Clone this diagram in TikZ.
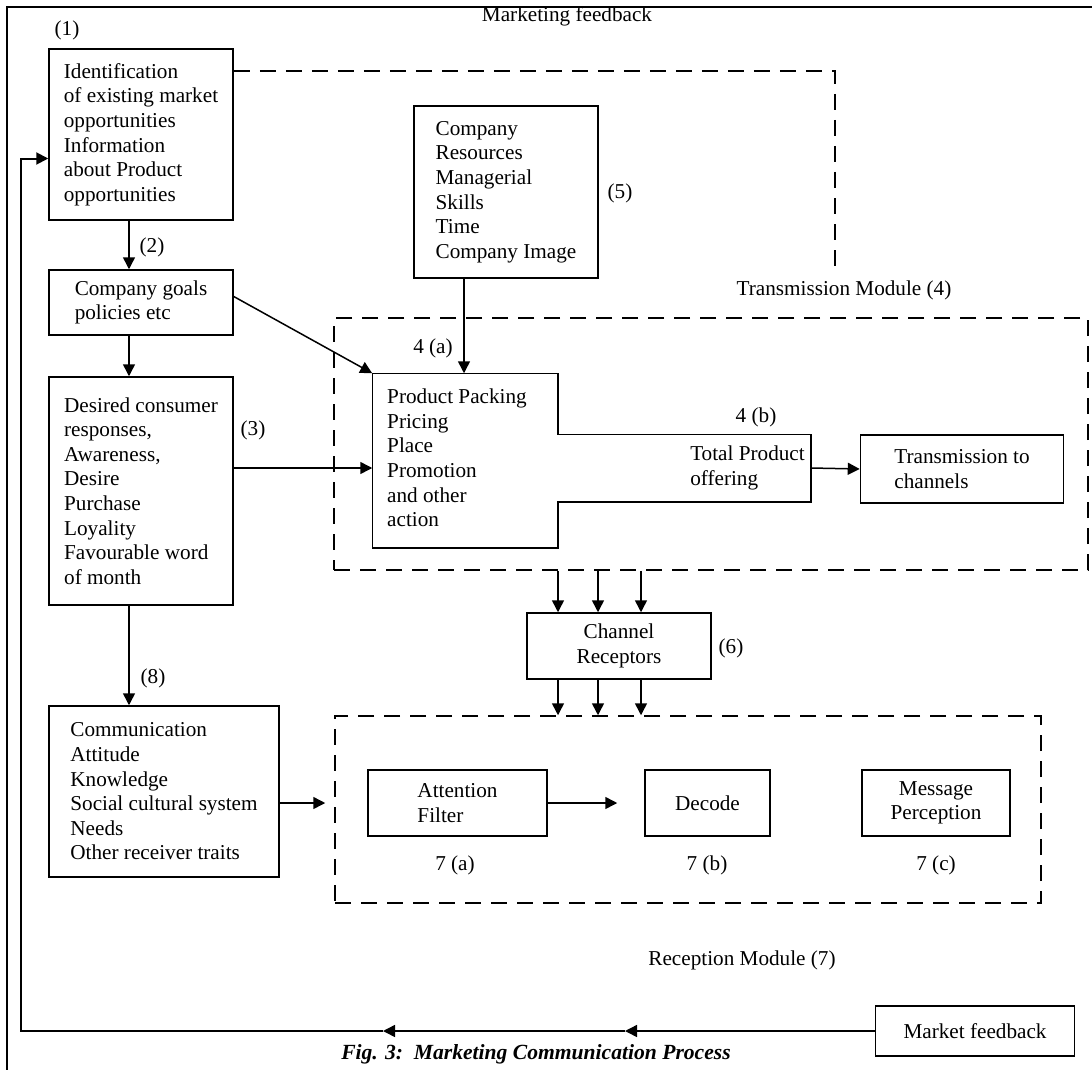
\documentclass[tikz,border=0pt]{standalone}
\usepackage{fontspec}
\setmainfont{Liberation Serif}
\usetikzlibrary{arrows.meta}

\tikzset{every picture/.style={line width=0.75pt}}
\tikzset{
  txt/.style={inner sep=0.75pt, font=\fontsize{10.6}{12.3}\selectfont},
  blk/.style={txt, draw, align=left},
  cblk/.style={txt, draw, align=center},
  modbox/.style={draw, dash pattern=on 8pt off 5pt},
  fbline/.style={dash pattern=on 8pt off 5pt},
  arr/.style={-{Triangle[length=6pt,width=6pt]}},
}

\begin{document}
\begin{tikzpicture}[x=0.5pt,y=0.5pt,yscale=-1,xscale=1]
\useasboundingbox (0,0) rectangle (1092,1070);

%Frame
\draw [line width=1pt] (7,1070) -- (7,7) -- (1092,7) ;

%Shape: Rectangle (1)
\node [blk, minimum width=92pt, minimum height=85.5pt] (idmkt) at (141,134.5) {Identification\\of existing market\\opportunities\\Information\\about Product\\opportunities};
%Shape: Rectangle (2)
\node [blk, minimum width=92pt, minimum height=32.5pt] (goals) at (141,302.5) {Company goals\\policies etc};
%Shape: Rectangle (3)
\node [blk, minimum width=92pt, minimum height=114pt] (resp) at (141,491) {Desired consumer\\responses,\\Awareness,\\Desire\\Purchase\\Loyality\\Favourable word\\of month};
%Shape: Rectangle (5)
\node [blk, minimum width=92pt, minimum height=86pt] (resrc) at (506,192) {Company\\Resources\\Managerial\\Skills\\Time\\Company Image};
%Shape: Rectangle (8)
\node [blk, minimum width=115pt, minimum height=85.5pt] (commun) at (164,791.5) {Communication\\Attitude\\Knowledge\\Social cultural system\\Needs\\Other receiver traits};

%Dashed modules
\node [modbox, minimum width=377pt, minimum height=126pt] (transmod) at (711,444) {};
\node [modbox, minimum width=353pt, minimum height=93.5pt] (recvmod) at (688,809.5) {};

%Shape: Product mix + offering
\node [minimum width=92pt, minimum height=86.5pt, inner sep=0pt] (mixbox) at (465,460.5) {};
\node [minimum width=126.5pt, minimum height=33pt, inner sep=0pt] (offer) at (683.5,468) {};
\draw (mixbox.north west) -- (mixbox.north east) -- (mixbox.east |- offer.north) -- (offer.north east) -- (offer.south east) -- (mixbox.east |- offer.south) -- (mixbox.south east) -- (mixbox.south west) -- cycle ;
\node [txt, align=left] (mixtxt) at (457,458) {Product Packing\\Pricing\\Place\\Promotion\\and other\\action};
\node [txt, align=left, anchor=west] (offertxt) at (688,468) {Total Product\\offering};

\node [blk, minimum width=101.5pt, minimum height=34pt] (tochan) at (962,469) {Transmission to\\channels};
\node [cblk, minimum width=92pt, minimum height=33pt] (chanrec) at (619,646) {Channel\\Receptors};

%Reception boxes
\node [blk, minimum width=89.5pt, minimum height=33pt] (attn) at (457.5,803) {Attention\\Filter};
\node [cblk, minimum width=62.5pt, minimum height=33pt] (decode) at (707.5,803) {Decode};
\node [cblk, minimum width=74pt, minimum height=33pt] (msgper) at (936,803) {Message\\Perception};
\node [cblk, minimum width=99.5pt, minimum height=25pt] (mktfb) at (975,1031) {Market feedback};

% Text Node
\node [txt] (lab1) at (67,30) {(1)};
\node [txt] (lab2) at (152,247) {(2)};
\node [txt] (lab3) at (253,430) {(3)};
\node [txt] (lab4a) at (433,348) {4 (a)};
\node [txt] (lab4b) at (756,417) {4 (b)};
\node [txt] (lab5) at (620,193) {(5)};
\node [txt] (lab6) at (731,648) {(6)};
\node [txt] (lab7a) at (455,865) {7 (a)};
\node [txt] (lab7b) at (707,865) {7 (b)};
\node [txt] (lab7c) at (936,865) {7 (c)};
\node [txt] (lab8) at (153,678) {(8)};
\node [txt] (mktlab) at (567,16) {Marketing feedback};
\node [txt] (translab) at (844,290) {Transmission Module (4)};
\node [txt] (recvlab) at (742,960) {Reception Module (7)};
\node [inner sep=0.75pt, font=\fontsize{10.8}{12}\selectfont\bfseries\itshape] (caption) at (536,1054) {Fig. 3:\ \ Marketing Communication Process};

%Connectors
\draw [arr] ([xshift=-6pt]idmkt.south) -- ([xshift=-6pt]goals.north) ;
\draw [arr] ([xshift=-6pt]goals.south) -- ([xshift=-6pt]resp.north) ;
\draw [arr] ([xshift=-6pt]resp.south) -- ([xshift=-6pt]resp.south |- commun.north) ;
\draw [arr] ([yshift=-3pt]goals.east) -- (mixbox.north west) ;
\draw [arr] (resp.east |- offer.west) -- (mixbox.west |- offer.west) ;
\draw [arr] ([xshift=-21pt]resrc.south) -- ([xshift=-21pt]resrc.south |- mixbox.north) ;
\draw [arr] (offer.east) -- (tochan.west) ;
\foreach \dx in {-30.5,-10.5,11} {
  \draw [arr] ([xshift=\dx pt]chanrec.north |- transmod.south) -- ([xshift=\dx pt]chanrec.north) ;
  \draw [arr] ([xshift=\dx pt]chanrec.south) -- ([xshift=\dx pt]chanrec.south |- recvmod.north) ;
}
\draw [arr, shorten >=4.5pt] (commun.east |- attn.west) -- (recvmod.west |- attn.west) ;
\draw [arr, shorten >=13.5pt] (attn.east) -- (decode.west) ;

%Marketing feedback (dashed)
\coordinate (fbend) at (835,267) ;
\draw [fbline] ([yshift=11.5pt]idmkt.north east) -| (fbend) ;

%Market feedback loop
\coordinate (fbB) at (625,1031) ;
\coordinate (fbA) at (383,1031) ;
\coordinate (loopx) at (21,0) ;
\draw [arr] (mktfb.west) -- (fbB) ;
\draw [arr] (fbB) -- (fbA) ;
\draw [arr, line width=1pt] (fbA) -| ([yshift=12pt]idmkt.west -| loopx) -- ([yshift=12pt]idmkt.west) ;

\end{tikzpicture}
\end{document}
